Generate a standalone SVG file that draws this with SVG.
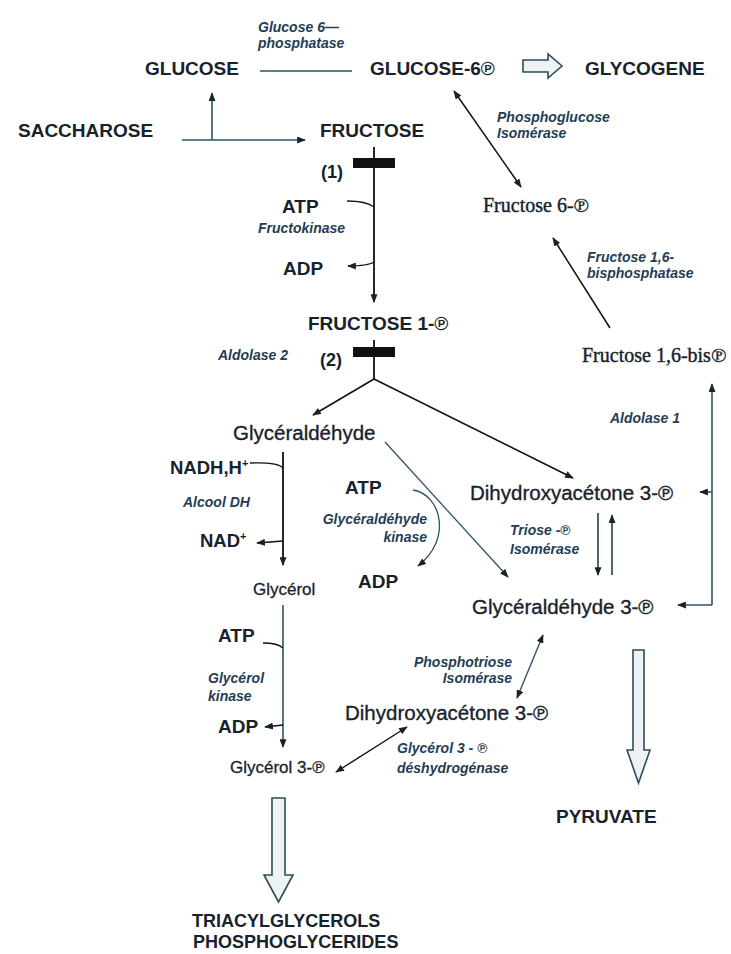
<svg xmlns="http://www.w3.org/2000/svg" width="731" height="954" viewBox="0 0 731 954">
<style>
text{font-family:"Liberation Sans","DejaVu Sans",Arial,sans-serif;fill:#17232c}
.b{font-weight:bold;font-size:19px}
.r{font-size:20.5px;stroke:#17232c;stroke-width:0.35}
.s{font-size:17px;stroke:#17232c;stroke-width:0.3}
.e{font-style:italic;font-weight:bold;font-size:14px;fill:#243d55}
.t{font-family:"Liberation Serif","DejaVu Serif",serif;font-size:20px;stroke:#17232c;stroke-width:0.4}
.ln{fill:none;stroke:#2d5564;stroke-width:1.6}
.dk{fill:none;stroke:#111;stroke-width:1.8}
.ha{fill:#eef2f3;stroke:#2c4c5a;stroke-width:1.6}
</style>
<defs>
<marker id="ah" viewBox="0 0 10 8" refX="9" refY="4" markerWidth="9" markerHeight="7" markerUnits="userSpaceOnUse" orient="auto-start-reverse">
<path d="M0,0 L10,4 L0,8 z" fill="#17232c"/>
</marker>
</defs>
<rect width="731" height="954" fill="#fff"/>

<g id="connectors">
<path class="ln" d="M260,71 L352,71"/>
<path class="ln" d="M182,140 L305,140" marker-end="url(#ah)"/>
<path class="ln" d="M212,140 L212,93" marker-end="url(#ah)"/>
<path class="dk" style="stroke-width:1.5" d="M454,91 L521,187" marker-start="url(#ah)" marker-end="url(#ah)"/>
<path class="dk" style="stroke-width:1.5" d="M610,328 L553,238" marker-end="url(#ah)"/>
<polygon class="ha" points="523,60 548,60 548,54 562,66 548,78 548,72 523,72"/>
<path class="dk" d="M374,147 L374,302" marker-end="url(#ah)"/>
<rect x="353" y="158" width="42" height="10" fill="#111"/>
<path class="dk" style="stroke-width:1.3" d="M347,201 Q366,201 374,207"/>
<path class="dk" style="stroke-width:1.3" d="M374,262 Q368,266 348,266" marker-end="url(#ah)"/>
<path class="dk" d="M374,340 L374,379"/>
<rect x="353" y="347" width="42" height="10" fill="#111"/>
<path class="dk" style="stroke-width:1.5" d="M374,379 L313,415" marker-end="url(#ah)"/>
<path class="dk" style="stroke-width:1.5" d="M374,379 L573,478" marker-end="url(#ah)"/>
<path class="ln" style="stroke-width:1.3" d="M385,442 L508,577" marker-end="url(#ah)"/>
<path class="dk" style="stroke-width:1.4" d="M250,463 Q278,462 283,468"/>
<path class="dk" d="M283,452 L283,565" marker-end="url(#ah)"/>
<path class="dk" style="stroke-width:1.4" d="M283,541 L257,543" marker-end="url(#ah)"/>
<path class="ln" style="stroke-width:1.3" d="M413,490 C442,495 452,540 418,566" marker-end="url(#ah)"/>
<path class="ln" d="M712,605 L712,384" marker-end="url(#ah)"/>
<path class="ln" d="M712,605 L678,605" marker-end="url(#ah)"/>
<path class="ln" d="M712,492 L700,492" marker-end="url(#ah)"/>
<path class="ln" style="stroke:#23404d" d="M598,513 L598,575" marker-end="url(#ah)"/>
<path class="ln" style="stroke:#23404d" d="M612,575 L612,515" marker-end="url(#ah)"/>
<path class="ln" style="stroke-width:1.4" d="M543,635 L517,698" marker-start="url(#ah)" marker-end="url(#ah)"/>
<path class="ln" d="M283,605 L283,747" marker-end="url(#ah)"/>
<path class="dk" style="stroke-width:1.4" d="M263,643 Q278,643 283,648"/>
<path class="dk" style="stroke-width:1.4" d="M283,725 L265,727" marker-end="url(#ah)"/>
<path class="dk" style="stroke-width:1.4" d="M336,772 L407,727" marker-start="url(#ah)" marker-end="url(#ah)"/>
<polygon class="ha" points="272,798 285,798 285,875 293,875 278.5,902 264,875 272,875"/>
<polygon class="ha" points="633,650 644,650 644,750 650,750 638.5,783 627,750 633,750"/>
</g>

<g id="enz-g6pase"><text class="e" x="258" y="32">Glucose 6—</text><text class="e" x="258" y="48">phosphatase</text></g>
<g id="glucose"><text class="b" x="145" y="75">GLUCOSE</text></g>
<g id="glucose6p"><text class="b" x="370" y="75">GLUCOSE-6℗</text></g>
<g id="glycogene"><text class="b" x="585" y="75">GLYCOGENE</text></g>
<g id="saccharose"><text class="b" x="18" y="137">SACCHAROSE</text></g>
<g id="fructose"><text class="b" x="320" y="137">FRUCTOSE</text></g>
<g id="step1"><text class="b" style="font-size:18px" x="321" y="178">(1)</text></g>
<g id="enz-pgi"><text class="e" x="497" y="122">Phosphoglucose</text><text class="e" x="497" y="138">Isomérase</text></g>
<g id="fructose6p"><text class="t" x="483" y="212">Fructose 6-℗</text></g>
<g id="atp1"><text class="b" x="282" y="213">ATP</text></g>
<g id="enz-fructokinase"><text class="e" x="258" y="233">Fructokinase</text></g>
<g id="enz-fbpase"><text class="e" x="587" y="262">Fructose 1,6-</text><text class="e" x="587" y="278">bisphosphatase</text></g>
<g id="adp1"><text class="b" x="283" y="275">ADP</text></g>
<g id="fructose1p"><text class="b" x="308" y="330">FRUCTOSE 1-℗</text></g>
<g id="enz-aldolase2"><text class="e" x="218" y="360">Aldolase 2</text></g>
<g id="step2"><text class="b" style="font-size:18px" x="320" y="366">(2)</text></g>
<g id="fructose16bp"><text class="t" x="582" y="362">Fructose 1,6-bis℗</text></g>
<g id="enz-aldolase1"><text class="e" x="610" y="423">Aldolase 1</text></g>
<g id="glyceraldehyde"><text class="r" x="233" y="440">Glycéraldéhyde</text></g>
<g id="nadh"><text class="b" style="font-size:18.5px" x="170" y="474">NADH,H<tspan style="font-size:11px" dy="-7">+</tspan></text></g>
<g id="atp2"><text class="b" x="345" y="494">ATP</text></g>
<g id="dhap1"><text class="r" x="470" y="500">Dihydroxyacétone 3-℗</text></g>
<g id="enz-adh"><text class="e" x="183" y="507">Alcool DH</text></g>
<g id="enz-glyk"><text class="e" x="427" y="524" text-anchor="end">Glycéraldéhyde</text><text class="e" x="427" y="542" text-anchor="end">kinase</text></g>
<g id="enz-tpi"><text class="e" x="510" y="535">Triose -℗</text><text class="e" x="510" y="554">Isomérase</text></g>
<g id="nad"><text class="b" style="font-size:18.5px" x="200" y="547">NAD<tspan style="font-size:11px" dy="-7">+</tspan></text></g>
<g id="adp2"><text class="b" x="358" y="588">ADP</text></g>
<g id="glycerol"><text class="s" x="253" y="595">Glycérol</text></g>
<g id="g3p"><text class="r" x="472" y="614">Glycéraldéhyde 3-℗</text></g>
<g id="atp3"><text class="b" x="218" y="642">ATP</text></g>
<g id="enz-pti"><text class="e" x="512" y="667" text-anchor="end">Phosphotriose</text><text class="e" x="512" y="683" text-anchor="end">Isomérase</text></g>
<g id="enz-glycerolk"><text class="e" x="208" y="683">Glycérol</text><text class="e" x="208" y="701">kinase</text></g>
<g id="dhap2"><text class="r" x="345" y="720">Dihydroxyacétone 3-℗</text></g>
<g id="adp3"><text class="b" x="218" y="733">ADP</text></g>
<g id="enz-g3pdh"><text class="e" x="397" y="753">Glycérol 3 - ℗</text><text class="e" x="397" y="773">déshydrogénase</text></g>
<g id="glycerol3p"><text class="s" x="230" y="773">Glycérol 3-℗</text></g>
<g id="pyruvate"><text class="b" x="556" y="823">PYRUVATE</text></g>
<g id="lipids"><text class="b" style="font-size:18px" x="192" y="927">TRIACYLGLYCEROLS</text><text class="b" style="font-size:18px" x="193" y="948">PHOSPHOGLYCERIDES</text></g>
</svg>
